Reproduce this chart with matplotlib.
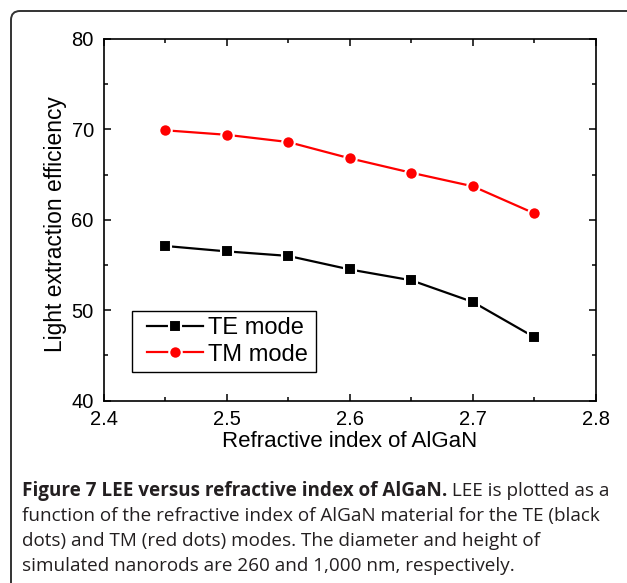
import matplotlib
matplotlib.use('Agg')
import matplotlib.pyplot as plt
import matplotlib.transforms as mtransforms
from matplotlib.patches import FancyBboxPatch, Rectangle
from matplotlib.ticker import MultipleLocator

# data
refr_index = [2.45, 2.50, 2.55, 2.60, 2.65, 2.70, 2.75]
te_mode = [57.1, 56.5, 56.0, 54.5, 53.3, 50.9, 47.0]
tm_mode = [69.9, 69.4, 68.6, 66.8, 65.2, 63.7, 60.7]

caption_bold = 'Figure 7 LEE versus refractive index of AlGaN.'
caption_rest = [' LEE is plotted as a',
                'function of the refractive index of AlGaN material for the TE (black',
                'dots) and TM (red dots) modes. The diameter and height of',
                'simulated nanorods are 260 and 1,000 nm, respectively.']

plt.rcParams['font.family'] = 'Liberation Sans'

W, H = 627, 583
fig = plt.figure(figsize=(W / 100, H / 100), dpi=100)
ax = fig.add_axes([103.5 / W, 1 - 400.5 / H, (596 - 103.5) / W, (400.5 - 39) / H])

ax.plot(refr_index, te_mode, color='black', lw=1.6, marker='s', ms=8,
        mfc='black', mec='white', mew=1.5, label='TE mode')
ax.plot(refr_index, tm_mode, color='red', lw=1.6, marker='o', ms=9,
        mfc='red', mec='white', mew=1.5, label='TM mode')

ax.set_xlim(2.4, 2.8)
ax.set_ylim(40, 80)
ax.xaxis.set_major_locator(MultipleLocator(0.1))
ax.xaxis.set_minor_locator(MultipleLocator(0.05))
ax.yaxis.set_major_locator(MultipleLocator(10))
ax.yaxis.set_minor_locator(MultipleLocator(5))
ax.tick_params(which='both', direction='in', top=True, right=True,
               labelsize=14.5, width=1.1, pad=7)
ax.tick_params(which='major', length=5)
ax.tick_params(which='minor', length=3)
for s in ax.spines.values():
    s.set_linewidth(1.2)

ax.set_xlabel('Refractive index of AlGaN', fontsize=16, labelpad=1)
ax.set_ylabel('Light extraction efficiency', fontsize=16.4)
ax.yaxis.set_label_coords(-0.074, 0.487)

# legend box drawn separately (wider side padding than the legend allows)
ax.add_patch(Rectangle((0.058, 0.079), 0.3735, 0.169, transform=ax.transAxes,
                       fill=True, facecolor='white', edgecolor='black',
                       lw=1.0, zorder=4))
leg = ax.legend(loc='center left', bbox_to_anchor=(0.0883, 0.1635), fontsize=17,
                frameon=False, borderaxespad=0, borderpad=0,
                handlelength=2.37, handletextpad=0.22, labelspacing=0.2)
leg.set_zorder(5)

# rounded frame around the whole figure panel
box = FancyBboxPatch((11, -60), 700, H - 11 + 60,
                     boxstyle='round,pad=0,rounding_size=9',
                     transform=mtransforms.IdentityTransform(),
                     fill=False, edgecolor='#333333', lw=1.4)
fig.patches.append(box)

# caption
cap = dict(fontsize=13.6, family='Open Sans', color='#231f20', va='baseline')
x0 = 22 / W
ys = [496, 521, 546, 571]
t = fig.text(x0, 1 - ys[0] / H, caption_bold, fontweight='bold', **cap)
fig.canvas.draw()
bb = t.get_window_extent(fig.canvas.get_renderer())
fig.text(bb.x1 / W, 1 - ys[0] / H, caption_rest[0], **cap)
for y, line in zip(ys[1:], caption_rest[1:]):
    fig.text(x0, 1 - y / H, line, **cap)

plt.savefig('out.png', dpi=100)
